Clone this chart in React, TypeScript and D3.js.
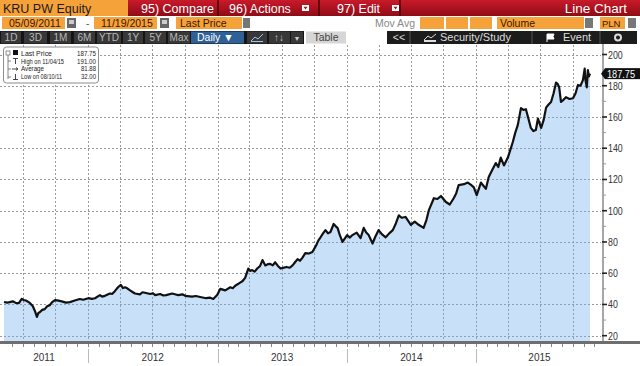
import React from 'react';
import * as d3 from 'd3';

// closing prices (PLN)
const dates = [
  '2011-05-09', '2011-05-18', '2011-05-25', '2011-06-03', '2011-06-11', '2011-06-20', '2011-06-28',
  '2011-07-04', '2011-07-10', '2011-07-21', '2011-07-29', '2011-08-04', '2011-08-10', '2011-08-14',
  '2011-08-18', '2011-08-25', '2011-09-01', '2011-09-08', '2011-09-15', '2011-09-22', '2011-09-30',
  '2011-10-10', '2011-10-19', '2011-10-31', '2011-11-11', '2011-11-25', '2011-12-09', '2011-12-19',
  '2012-01-02', '2012-01-12', '2012-01-21', '2012-02-04', '2012-02-10', '2012-02-18', '2012-03-03',
  '2012-03-10', '2012-03-17', '2012-03-26', '2012-04-03', '2012-04-09', '2012-04-15', '2012-04-22',
  '2012-04-29', '2012-05-06', '2012-05-13', '2012-05-27', '2012-06-03', '2012-06-10', '2012-06-25',
  '2012-07-02', '2012-07-09', '2012-07-23', '2012-08-01', '2012-08-09', '2012-08-26', '2012-09-05',
  '2012-09-12', '2012-09-24', '2012-10-02', '2012-10-21', '2012-11-01', '2012-11-13', '2012-11-30',
  '2012-12-10', '2012-12-20', '2012-12-31', '2013-01-09', '2013-01-16', '2013-01-23', '2013-02-06',
  '2013-02-13', '2013-02-20', '2013-03-06', '2013-03-13', '2013-03-20', '2013-03-29', '2013-04-03',
  '2013-04-09', '2013-04-16', '2013-04-23', '2013-05-01', '2013-05-08', '2013-05-16', '2013-05-23',
  '2013-05-30', '2013-06-06', '2013-06-13', '2013-06-20', '2013-06-28', '2013-07-08', '2013-07-15',
  '2013-07-24', '2013-08-01', '2013-08-08', '2013-08-15', '2013-08-22', '2013-08-29', '2013-09-06',
  '2013-09-16', '2013-09-26', '2013-10-07', '2013-10-13', '2013-10-19', '2013-10-26', '2013-11-02',
  '2013-11-09', '2013-11-16', '2013-11-25', '2013-12-01', '2013-12-06', '2013-12-13', '2013-12-20',
  '2014-01-02', '2014-01-10', '2014-01-17', '2014-01-29', '2014-02-09', '2014-02-18', '2014-02-25',
  '2014-03-04', '2014-03-15', '2014-03-22', '2014-04-01', '2014-04-10', '2014-04-21', '2014-05-01',
  '2014-05-11', '2014-05-20', '2014-05-28', '2014-06-05', '2014-06-16', '2014-07-01', '2014-07-12',
  '2014-07-23', '2014-08-06', '2014-08-14', '2014-08-21', '2014-09-04', '2014-09-14', '2014-09-24',
  '2014-10-08', '2014-10-19', '2014-10-30', '2014-11-06', '2014-11-13', '2014-11-28', '2014-12-09',
  '2014-12-18', '2014-12-26', '2015-01-03', '2015-01-15', '2015-01-22', '2015-01-29', '2015-02-06',
  '2015-02-18', '2015-02-26', '2015-03-05', '2015-03-12', '2015-03-21', '2015-04-01', '2015-04-08',
  '2015-04-15', '2015-04-22', '2015-04-29', '2015-05-08', '2015-05-15', '2015-05-22', '2015-05-29',
  '2015-06-05', '2015-06-12', '2015-06-19', '2015-06-25', '2015-07-04', '2015-07-11', '2015-07-18',
  '2015-07-25', '2015-08-01', '2015-08-08', '2015-08-15', '2015-08-20', '2015-08-24', '2015-08-29',
  '2015-09-05', '2015-09-12', '2015-09-22', '2015-10-02', '2015-10-09', '2015-10-16', '2015-10-23',
  '2015-10-30', '2015-11-04', '2015-11-06', '2015-11-10', '2015-11-13', '2015-11-16', '2015-11-19',
];
const prices = [
  41.6, 41.2, 41.5, 42, 41, 40.8, 43.5,
  42.8, 42.5, 41, 39, 36, 32, 34.5,
  35, 36.5, 37, 38.8, 39.5, 41.5, 42.8,
  42.4, 42, 41.2, 41.5, 42.5, 43.5, 43,
  44, 43.6, 44, 46, 45, 45.5, 47,
  46.8, 48.5, 51, 52.5, 50.5, 51, 50.2,
  49, 48, 47, 46.5, 47.8, 47.5, 46.7,
  47.2, 46, 46.7, 45.8, 46, 47, 46.4,
  46, 46.5, 45.5, 45, 45.4, 44.8, 44,
  44.4, 43.5, 46, 50, 49.5, 49, 51,
  50.4, 52, 54, 55, 57, 63, 61.5,
  62, 61, 63, 64.5, 68.4, 65, 65.8,
  66, 65, 67, 64.8, 63, 63.6, 64,
  63.5, 65, 67, 69, 68, 70, 72.9,
  72.6, 73.6, 78, 81, 83, 85.5, 87.6,
  85.5, 86.4, 91.5, 90, 89, 84, 80,
  84.4, 82.8, 84.4, 86, 82.5, 89, 86,
  84.4, 79, 83, 87.6, 85, 83, 85.5,
  87.6, 92, 97, 95.5, 96, 91, 93,
  91, 89, 94, 100.4, 108, 107.5, 109.4,
  105.6, 104, 108, 111, 116.4, 117, 118,
  116.5, 115, 110, 118, 116, 114, 121.6,
  127, 130.5, 128, 134, 129, 134, 139,
  144, 150, 154.8, 165.7, 164.5, 165, 159,
  153, 151, 151.7, 159, 153, 158, 166,
  168, 169.6, 175, 182, 181, 179, 169.6,
  171, 172.7, 171.5, 172, 175, 180.5, 180,
  183.6, 191, 184, 179, 190, 186, 187.75,
];

const yTicks = [20, 40, 60, 80, 100, 120, 140, 160, 180, 200];
const yMinor = [30, 50, 70, 90, 110, 130, 150, 170, 190];
const years = ['2011', '2012', '2013', '2014', '2015'];
const legendLabels = ['Last Price', 'High on 11/04/15', 'Average', 'Low on 08/10/11'];
const legendValues = ['187.75', '191.00', '81.88', '32.00'];
const rangeButtons = ['1D', '3D', '1M', '6M', 'YTD', '1Y', '5Y', 'Max'];
const lastPrice = 187.75;

const ORANGE = '#f6a23a';
const FONT = 'Liberation Sans, Arial, sans-serif';

export default function App() {
  const parse = d3.timeParse('%Y-%m-%d');
  const series = dates.map((d, i) => ({ date: parse(d) as Date, value: prices[i] }));
  const start = parse('2011-05-09') as Date;
  const end = parse('2015-11-19') as Date;

  const x = d3.scaleTime().domain([start, end]).range([4, 590]);
  const y = d3.scaleLinear().domain([20, 200]).range([335.7, 54.5]);
  const axisX = 603;
  const baseY = 341;
  const crisp = (v: number) => Math.round(v) + 0.5;

  const line = d3.line<any>().x(d => x(d.date)).y(d => y(d.value));
  const area = d3.area<any>().x(d => x(d.date)).y0(baseY).y1(d => y(d.value));

  const quarters = d3.timeMonth.every(3)!.range(start, d3.timeMonth.offset(end, 1));
  const months = d3.timeMonth.range(start, d3.timeMonth.offset(end, 1));

  // buttons on the third toolbar row
  const btnX = [1, 24, 50, 74, 97, 123, 145, 168];
  const btnW = [20, 23, 21, 21, 24, 20, 21, 22];
  const yLast = y(lastPrice);
  // squeeze widths for the narrow Bloomberg digits
  const labelW = [31, 43, 23, 41];
  const valueW = [19, 19, 15, 15];

  return (
    <svg width={640} height={366} style={{ position: 'fixed', left: 0, top: 0, background: '#fff' }}
      fontFamily={FONT}>
      <defs>
        <linearGradient id="red" x1="0" y1="0" x2="0" y2="1">
          <stop offset="0" stopColor="#c91a2a" />
          <stop offset="1" stopColor="#8f0b17" />
        </linearGradient>
        <clipPath id="areaClip"><path d={area(series) as string} /></clipPath>
      </defs>

      {/* row 1 */}
      <rect x={0} y={0} width={128} height={16} fill={ORANGE} />
      <text x={3} y={13} fontSize={12.5} fill="#1a1a1a">KRU PW Equity</text>
      <rect x={128} y={0} width={512} height={16} fill="url(#red)" />
      {[218, 319, 400].map(sx => (
        <line key={sx} x1={sx} x2={sx} y1={0} y2={16} stroke="#4a0006" strokeWidth={1.5} />
      ))}
      <text x={141} y={12.5} fontSize={12.5} fill="#fff">95) Compare</text>
      <text x={229} y={12.5} fontSize={12.5} fill="#fff">96) Actions</text>
      <rect x={302} y={5} width={7} height={6} fill="#fff" />
      <path d="M303.5,6.8 L307.5,6.8 L305.5,9.4 Z" fill="#a01020" />
      <text x={337} y={12.5} fontSize={12.5} fill="#fff">97) Edit</text>
      <rect x={392} y={5} width={7} height={6} fill="#fff" />
      <path d="M393.5,6.8 L397.5,6.8 L395.5,9.4 Z" fill="#a01020" />
      <text x={627} y={13} fontSize={13.5} fill="#fff" textAnchor="end">Line Chart</text>

      {/* row 2 */}
      <rect x={2} y={17} width={63} height={12} fill={ORANGE} />
      <text x={9} y={27} fontSize={10.5} fill="#3a1800">05/09/2011</text>
      <rect x={67} y={18} width={9} height={10} fill="#666" />
      <rect x={69} y={20} width={5} height={4} fill="#ccc" />
      <text x={86} y={27} fontSize={10} fill="#555">-</text>
      <rect x={94} y={17} width={63} height={12} fill={ORANGE} />
      <text x={101} y={27} fontSize={10.5} fill="#3a1800">11/19/2015</text>
      <rect x={160} y={18} width={9} height={10} fill="#666" />
      <rect x={162} y={20} width={5} height={4} fill="#ccc" />
      <rect x={176} y={17} width={66} height={12} fill={ORANGE} />
      <text x={180} y={27} fontSize={10.5} fill="#3a1800">Last Price</text>
      <rect x={243} y={18} width={7} height={10} fill="#777" />
      <text x={415} y={27} fontSize={10.5} fill="#888" textAnchor="end">Mov Avg</text>
      {[[420, 24], [446, 22], [470, 22]].map(([bx, bw]) => (
        <rect key={bx} x={bx} y={17} width={bw} height={12} fill={ORANGE} />
      ))}
      <rect x={497} y={17} width={87} height={12} fill={ORANGE} />
      <text x={500} y={27} fontSize={10.5} fill="#3a1800">Volume</text>
      <rect x={585} y={18} width={8} height={10} fill="#777" />
      <rect x={600} y={17} width={25} height={12} fill={ORANGE} />
      <text x={602} y={27} fontSize={9.5} fill="#3a1800">PLN</text>
      <rect x={628} y={18} width={8} height={10} fill="#777" />

      {/* row 3 */}
      <rect x={0} y={31} width={304} height={13} fill="#151515" />
      {rangeButtons.map((b, i) => (
        <g key={b}>
          <rect x={btnX[i]} y={31.5} width={btnW[i]} height={12} fill="#383838" />
          <text x={btnX[i] + btnW[i] / 2} y={41} fontSize={10} fill="#b8b8b8" textAnchor="middle">{b}</text>
        </g>
      ))}
      <rect x={191} y={31.5} width={53} height={12} fill="#2f6196" />
      <text x={197} y={41} fontSize={10.5} fill="#fff">Daily ▼</text>
      <rect x={247} y={31.5} width={20} height={12} fill="#383838" />
      <path d="M251,41 L255,37 L258,39 L263,34" stroke="#9ec3e8" fill="none" strokeWidth={1} />
      <line x1={251} x2={263} y1={41.5} y2={41.5} stroke="#9ec3e8" />
      <rect x={269} y={31.5} width={21} height={12} fill="#383838" />
      <text x={279} y={41} fontSize={10} fill="#ccc" textAnchor="middle">↑↓</text>
      <rect x={291} y={31.5} width={12} height={12} fill="#383838" />
      <text x={297} y={40.5} fontSize={7} fill="#ccc" textAnchor="middle">▼</text>
      <rect x={306} y={31.5} width={40} height={12} fill="#d6d6d6" />
      <text x={326} y={41} fontSize={10.5} fill="#444" textAnchor="middle">Table</text>
      <rect x={387} y={31} width={250} height={13} fill="#1c1c1c" />
      {[410, 532, 600].map(sx => (
        <line key={sx} x1={sx} x2={sx} y1={31} y2={44} stroke="#555" />
      ))}
      <text x={399} y={41} fontSize={10.5} fill="#ddd" textAnchor="middle">{'<<'}</text>
      <path d="M424,40 L428,36 L431,38 L436,34" stroke="#ddd" fill="none" />
      <rect x={424} y={40} width={12} height={2} fill="#ddd" />
      <text x={440} y={41} fontSize={11} fill="#ddd">Security/Study</text>
      <path d="M547,34 L547,42 M547,34 L554,34 L553,36.5 L554,39 L547,39" stroke="#fff" fill="#fff" />
      <text x={563} y={41} fontSize={11} fill="#ddd">Event</text>
      <circle cx={618} cy={37.5} r={3} fill="none" stroke="#ddd" strokeWidth={2} />

      {/* grid */}
      <g stroke="#9a9a9a" strokeDasharray="2,2" shapeRendering="crispEdges">
        {yTicks.map(t => (
          <line key={t} x1={0} x2={axisX - 2} y1={crisp(y(t))} y2={crisp(y(t))} />
        ))}
        {quarters.map(q => (
          <line key={+q} x1={crisp(x(q))} x2={crisp(x(q))} y1={45} y2={baseY} />
        ))}
      </g>

      {/* area + line */}
      <path d={area(series) as string} fill="#c8e1f8" />
      <g clipPath="url(#areaClip)" stroke="#8aa0b4" strokeDasharray="2,2" shapeRendering="crispEdges">
        {yTicks.map(t => (
          <line key={t} x1={0} x2={axisX} y1={crisp(y(t))} y2={crisp(y(t))} />
        ))}
        {quarters.map(q => (
          <line key={+q} x1={crisp(x(q))} x2={crisp(x(q))} y1={45} y2={baseY} />
        ))}
      </g>
      <path d={line(series) as string} fill="none" stroke="#111" strokeWidth={2.2} strokeLinejoin="round" />

      {/* right axis */}
      <line x1={axisX} x2={axisX} y1={44} y2={baseY + 2} stroke="#8a8a8a" strokeWidth={1.5} />
      {yMinor.map(t => (
        <line key={t} x1={axisX} x2={axisX + 3} y1={y(t)} y2={y(t)} stroke="#999" />
      ))}
      {yTicks.map(t => (
        <g key={t}>
          <line x1={axisX - 1} x2={axisX + 4} y1={y(t)} y2={y(t)} stroke="#222" strokeWidth={1.6} />
          <text x={axisX + 5} y={y(t) + 4} fontSize={11} fill="#333"
            textLength={String(t).length * 4.9} lengthAdjust="spacingAndGlyphs">{t}</text>
        </g>
      ))}
      <rect x={605} y={yLast - 5.5} width={35} height={11} fill="#111" />
      <path d={`M605,${yLast - 5.5} L601,${yLast} L605,${yLast + 5.5} Z`} fill="#111" />
      <text x={607} y={yLast + 4} fontSize={11} fill="#fff" textLength={28}
        lengthAdjust="spacingAndGlyphs">{lastPrice.toFixed(2)}</text>

      {/* bottom axis */}
      <rect x={0} y={baseY} width={640} height={3} fill="#6e6e6e" />
      {months.map(m => (
        <line key={+m} x1={crisp(x(m))} x2={crisp(x(m))} y1={baseY + 3} y2={baseY + 6} stroke="#888" />
      ))}
      {years.map((yr, i) => {
        const ys = d3.timeYear.floor(parse(`${yr}-06-01`) as Date);
        const ye = d3.timeYear.offset(ys, 1);
        const left = Math.max(0, x(ys));
        const right = i === years.length - 1 ? axisX : x(ye);
        return (
          <g key={yr}>
            {i > 0 && <line x1={crisp(x(ys))} x2={crisp(x(ys))} y1={349} y2={363} stroke="#bbb" />}
            <text x={(left + right) / 2} y={361} fontSize={10} fill="#333" textAnchor="middle">{yr}</text>
          </g>
        );
      })}

      {/* legend */}
      <rect x={3.5} y={47} width={95} height={36} rx={3} fill="#fff" stroke="#8c8c8c" />
      <path d="M8,53 L8,79 M8,61 L11,61 M8,69 L11,69 M8,77 L11,77" stroke="#666" fill="none" strokeWidth={0.8} />
      <rect x={6} y={51} width={4} height={4} fill="#fff" stroke="#666" strokeWidth={0.7} />
      <rect x={13} y={50} width={5} height={5} fill="#111" />
      <path d="M13,58.5 L18,58.5 M15.5,58.5 L15.5,64" stroke="#333" strokeWidth={0.9} />
      <path d="M12,69 L18,69 M16,67.5 L18,69 L16,70.5" stroke="#333" strokeWidth={0.9} fill="none" />
      <path d="M13,79.5 L18,79.5 M15.5,74 L15.5,79.5" stroke="#333" strokeWidth={0.9} />
      {legendLabels.map((l, i) => (
        <g key={l}>
          <text x={21} y={56 + i * 7.6} fontSize={7} fill="#222" textLength={labelW[i]}
            lengthAdjust="spacingAndGlyphs">{l}</text>
          <text x={96 - valueW[i]} y={56 + i * 7.6} fontSize={7} fill="#222" textLength={valueW[i]}
            lengthAdjust="spacingAndGlyphs">{legendValues[i]}</text>
        </g>
      ))}
    </svg>
  );
}
